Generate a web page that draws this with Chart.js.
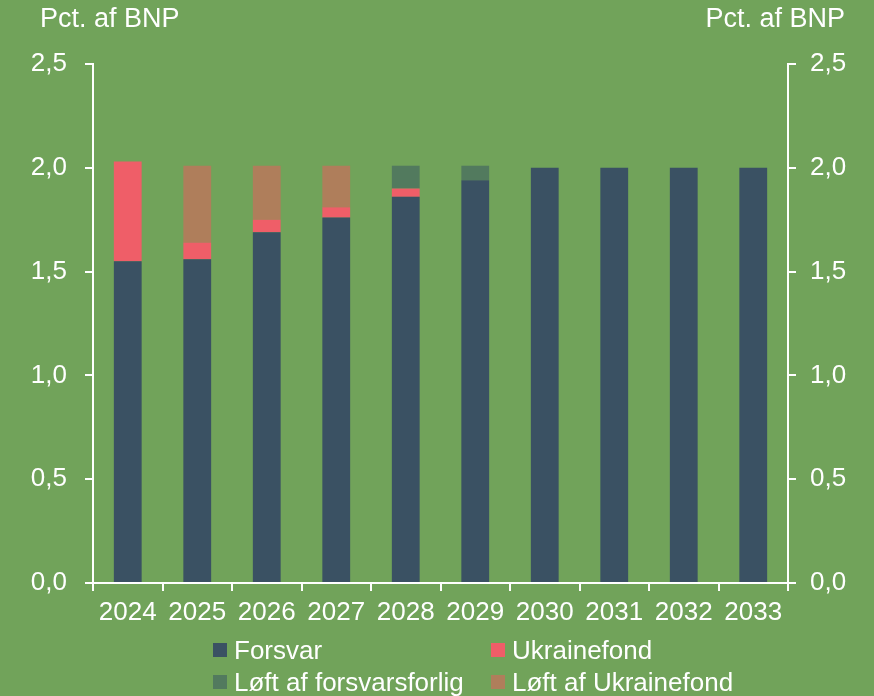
<!DOCTYPE html>
<html>
<head>
<meta charset="utf-8">
<script src="https://cdn.jsdelivr.net/npm/chart.js@4"></script>
<style>
    body { margin: 0; background: #71a35a; }
    #wrap { position: relative; width: 874px; height: 696px; background: #71a35a; font-family: "Liberation Sans", Arial, sans-serif; color: #fff; }
    .unit { position: absolute; top: 5px; font-size: 27px; line-height: 27px; }
    .leg { position: absolute; font-size: 26px; line-height: 26px; height: 26px; white-space: nowrap; }
    .leg span { position: absolute; left: 0; top: 6px; width: 14px; height: 14px; }
    .leg div { position: absolute; left: 21px; top: 0; }
</style>
</head>
<body>
<div id="wrap">
    <canvas id="chart" width="874" height="696"></canvas>
    <div class="unit" style="left:40px">Pct. af BNP</div>
    <div class="unit" style="right:29px">Pct. af BNP</div>
    <div id="legend"></div>
</div>
<script>
const years = ['2024', '2025', '2026', '2027', '2028', '2029', '2030', '2031', '2032', '2033'];
const forsvar = [1.55, 1.56, 1.69, 1.76, 1.86, 1.94, 2.00, 2.00, 2.00, 2.00];
const ukrainefond = [0.48, 0.08, 0.06, 0.05, 0.04, 0, 0, 0, 0, 0];
const loftForlig = [0, 0, 0, 0, 0.11, 0.07, 0, 0, 0, 0];
const loftUkraine = [0, 0.37, 0.26, 0.20, 0, 0, 0, 0, 0, 0];

const seriesNames = ['Forsvar', 'Ukrainefond', 'Løft af forsvarsforlig', 'Løft af Ukrainefond'];
const seriesColors = ['#3a5163', '#ef5e68', '#527a5e', '#af7e5b'];

const fmt = v => Number(v).toFixed(1).replace('.', ',');
const tickFont = { family: '"Liberation Sans", Arial, sans-serif', size: 26 };

const datasets = [forsvar, ukrainefond, loftForlig, loftUkraine].map((d, i) => ({
    label: seriesNames[i],
    data: d,
    backgroundColor: seriesColors[i],
    borderWidth: 0,
    categoryPercentage: 1,
    barPercentage: 0.4,
    yAxisID: 'y'
}));

new Chart(document.getElementById('chart'), {
    type: 'bar',
    data: { labels: years, datasets },
    options: {
        responsive: false,
        animation: false,
        layout: { padding: { top: 64, left: 0, right: 0, bottom: 0 } },
        plugins: { legend: { display: false }, tooltip: { enabled: false } },
        scales: {
            x: {
                stacked: true,
                grid: { drawOnChartArea: false, color: '#fff', tickLength: 8, lineWidth: 2, offset: true },
                border: { color: '#fff', width: 2 },
                ticks: { color: '#fff', font: tickFont, padding: 6, maxRotation: 0 },
                afterFit: s => { s.height = 113; }
            },
            y: {
                stacked: true,
                position: 'left',
                min: 0, max: 2.5,
                grid: { drawOnChartArea: false, color: '#fff', tickLength: 8, lineWidth: 2 },
                border: { color: '#fff', width: 2 },
                ticks: { stepSize: 0.5, color: '#fff', font: tickFont, padding: 18, callback: fmt },
                afterFit: s => { s.width = 93; }
            },
            y2: {
                position: 'right',
                min: 0, max: 2.5,
                grid: { drawOnChartArea: false, color: '#fff', tickLength: 8, lineWidth: 2 },
                border: { color: '#fff', width: 2 },
                ticks: { stepSize: 0.5, color: '#fff', font: tickFont, padding: 14, callback: fmt },
                afterFit: s => { s.width = 86; }
            }
        }
    }
});

// Legend in two fixed columns, like the original
const legendPos = [[213, 637], [491, 637], [213, 669], [491, 669]];
const legend = document.getElementById('legend');
seriesNames.forEach((name, i) => {
    const item = document.createElement('div');
    item.className = 'leg';
    item.style.left = legendPos[i][0] + 'px';
    item.style.top = legendPos[i][1] + 'px';
    item.innerHTML = '<span style="background:' + seriesColors[i] + '"></span><div>' + name + '</div>';
    legend.appendChild(item);
});
</script>
</body>
</html>
